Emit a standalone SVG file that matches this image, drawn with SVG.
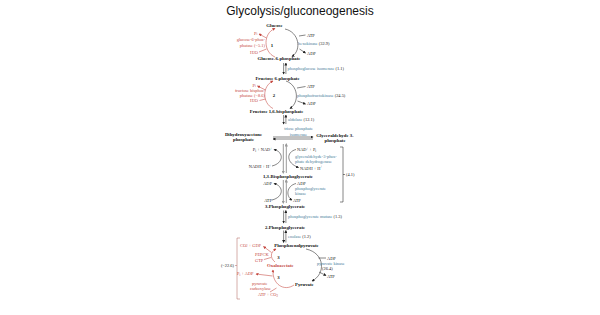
<svg xmlns="http://www.w3.org/2000/svg" width="600" height="315" viewBox="0 0 600 315">
<defs>
<style>
.t{font-family:"Liberation Serif","Times New Roman",serif;font-size:4.4px;fill:#222}
.m{font-family:"Liberation Serif","Times New Roman",serif;font-size:4.8px;font-weight:bold;fill:#111}
.b{fill:#3f7a98}
.r{fill:#c4463e}
.ln{fill:none;stroke:#222;stroke-width:0.55}
.lr{fill:none;stroke:#c4463e;stroke-width:0.55}
.lg{fill:none;stroke:#9a9a9a;stroke-width:1}
</style>
<marker id="ab" markerUnits="userSpaceOnUse" markerWidth="3" markerHeight="3" refX="2.5" refY="1.5" orient="auto"><path d="M0,0 L3,1.5 L0,3 z" fill="#222"/></marker>
<marker id="ar" markerUnits="userSpaceOnUse" markerWidth="3" markerHeight="3" refX="2.5" refY="1.5" orient="auto"><path d="M0,0 L3,1.5 L0,3 z" fill="#c4463e"/></marker>
<marker id="ag" markerUnits="userSpaceOnUse" markerWidth="3.5" markerHeight="3.5" refX="2.5" refY="1.75" orient="auto"><path d="M0,0 L3.5,1.75 L0,3.5 z" fill="#9a9a9a"/></marker>
</defs>
<rect width="600" height="315" fill="#fff"/>
<text x="300" y="15" text-anchor="middle" font-family="Liberation Sans, Arial, sans-serif" font-size="12" fill="#111">Glycolysis/gluconeogenesis</text>

<g id="connectors">
<path class="ln" d="M285 29 C299 32 302 50 292 56.5" marker-end="url(#ab)"/>
<path class="ln" d="M299 36 L305.5 35"/>
<path class="ln" d="M299.5 49 L305.5 53" marker-end="url(#ab)"/>
<path class="lr" d="M275 57 C263 52 263 33 275 28.5" marker-end="url(#ar)"/>
<path class="lr" d="M266.5 38 L259 34" marker-end="url(#ar)"/>
<path class="lr" d="M259 52 L266.5 49"/>
<path class="ln" d="M283.6 63 L283.6 74" marker-end="url(#ab)"/>
<path class="ln" d="M285.9 74 L285.9 63" marker-end="url(#ab)"/>
<path class="ln" d="M286 81 C298 85 300 102 290 108.5" marker-end="url(#ab)"/>
<path class="ln" d="M297 88 L305.5 86.5"/>
<path class="ln" d="M297.5 101 L305.5 104" marker-end="url(#ab)"/>
<path class="lr" d="M273 108.5 C262 103 262 86 273 81" marker-end="url(#ar)"/>
<path class="lr" d="M265.5 90 L257.5 86" marker-end="url(#ar)"/>
<path class="lr" d="M259.5 100.5 L265.5 99"/>
<path class="ln" d="M283.6 115 L283.6 124" marker-end="url(#ab)"/>
<path class="ln" d="M285.9 124 L285.9 115" marker-end="url(#ab)"/>
<path class="ln" d="M273 137 L313 137" marker-end="url(#ab)"/>
<path class="ln" d="M313 139 L273 139" marker-end="url(#ab)"/>
<path class="lg" d="M283.3 144 L283.3 173" marker-end="url(#ag)"/>
<path class="lg" d="M286.3 173 L286.3 144" marker-end="url(#ag)"/>
<path class="ln" d="M272 166 C284 163 284 152 274 149.5" marker-end="url(#ab)"/>
<path class="ln" d="M296 149.5 C286 152 286 163 298.5 167.5" marker-end="url(#ab)"/>
<path class="lg" d="M283.3 180 L283.3 203" marker-end="url(#ag)"/>
<path class="lg" d="M286.3 203 L286.3 180" marker-end="url(#ag)"/>
<path class="ln" d="M272 200 C284 197 284 186 274 183.5" marker-end="url(#ab)"/>
<path class="ln" d="M296 183.5 C286 186 286 197 292 200" marker-end="url(#ab)"/>
<path class="ln" d="M283.6 210.5 L283.6 223" marker-end="url(#ab)"/>
<path class="ln" d="M285.9 223 L285.9 210.5" marker-end="url(#ab)"/>
<path class="ln" d="M283.6 230.5 L283.6 242.5" marker-end="url(#ab)"/>
<path class="ln" d="M285.9 242.5 L285.9 230.5" marker-end="url(#ab)"/>
<path class="ln" d="M306 249 C325 253 326 274 312 281" marker-end="url(#ab)"/>
<path class="ln" d="M318.5 258 L326 258"/>
<path class="ln" d="M319 272 L326 275.5" marker-end="url(#ab)"/>
<path class="lr" d="M275 262 C270 258 270 252 276 249" marker-end="url(#ar)"/>
<path class="lr" d="M271.5 252.5 L263.5 246.5" marker-end="url(#ar)"/>
<path class="lr" d="M264 259.5 L271 257.5"/>
<path class="lr" d="M294 285 C284 292 272 284 273 270" marker-end="url(#ar)"/>
<path class="lr" d="M272.5 276 L256 274" marker-end="url(#ar)"/>
<path class="lr" d="M270 292 L276.5 288"/>
<path class="ln" d="M340 147 H343 V202 H340 M343 174.5 H345"/>
<path fill="none" stroke="#b56a64" stroke-width="0.55" d="M240 238 H237 V299 H240 M237 265.5 H235"/>
</g>

<g id="glucose"><text class="m" x="274.5" y="27" text-anchor="middle">Glucose</text></g>
<g id="g6p"><text class="m" x="279" y="60" text-anchor="middle">Glucose-6-phosphate</text></g>
<g id="hexokinase">
<text class="t" x="307" y="36.5">ATP</text>
<text class="t" x="298" y="44.5"><tspan class="b">hexokinase</tspan> (32.9)</text>
<text class="t" x="307" y="54.5">ADP</text>
</g>
<g id="g6pase">
<text class="t r" x="254" y="34.5">P<tspan font-size="3" dy="0.8">i</tspan></text>
<text class="t r" x="265" y="40.5" text-anchor="end">glucose-6-phos-</text>
<text class="t r" x="265" y="46.5" text-anchor="end">phatase (−5.1)</text>
<text class="t r" x="250" y="53.5">H<tspan font-size="3" dy="0.8">2</tspan><tspan dy="-0.8">O</tspan></text>
<text class="m" x="272" y="46.5" text-anchor="middle">1</text>
</g>
<g id="pgi"><text class="t b" x="287.5" y="70">phosphoglucose isomerase <tspan fill="#222">(1.1)</tspan></text></g>
<g id="f6p"><text class="m" x="277.5" y="79.5" text-anchor="middle">Fructose 6-phosphate</text></g>
<g id="pfk">
<text class="t" x="307" y="87.5">ATP</text>
<text class="t" x="297" y="96.5"><tspan class="b">phosphofructokinase</tspan> (24.5)</text>
<text class="t" x="307" y="104.5">ADP</text>
</g>
<g id="fbpase">
<text class="t r" x="252.5" y="86.5">P<tspan font-size="3" dy="0.8">i</tspan></text>
<text class="t r" x="265" y="91.5" text-anchor="end">fructose bisphos-</text>
<text class="t r" x="265" y="96.5" text-anchor="end">phatase (−8.6)</text>
<text class="t r" x="250" y="101.5">H<tspan font-size="3" dy="0.8">2</tspan><tspan dy="-0.8">O</tspan></text>
<text class="m" x="274" y="97" text-anchor="middle">2</text>
</g>
<g id="f16bp"><text class="m" x="276.5" y="113" text-anchor="middle">Fructose 1,6-bisphosphate</text></g>
<g id="aldolase"><text class="t b" x="288" y="120.5">aldolase <tspan fill="#222">(12.1)</tspan></text></g>
<g id="tpi">
<text class="t b" x="298.5" y="130" text-anchor="middle">triose phosphate</text>
<text class="t b" x="298.5" y="135.5" text-anchor="middle">isomerase</text>
</g>
<g id="dhap">
<text class="m" x="243.5" y="135.5" text-anchor="middle">Dihydroxyacetone</text>
<text class="m" x="243.5" y="141" text-anchor="middle">phosphate</text>
</g>
<g id="gap">
<text class="m" x="335" y="136.5" text-anchor="middle">Glyceraldehyde 3-</text>
<text class="m" x="335" y="142" text-anchor="middle">phosphate</text>
</g>
<g id="gapdh">
<text class="t" x="272" y="151" text-anchor="end">P<tspan font-size="3" dy="0.8">i</tspan><tspan dy="-0.8"> + NAD</tspan><tspan font-size="3" dy="-1.5">+</tspan></text>
<text class="t" x="297" y="151">NAD<tspan font-size="3" dy="-1.5">+</tspan><tspan dy="1.5"> + P</tspan><tspan font-size="3" dy="0.8">i</tspan></text>
<text class="t b" x="295" y="157.5">glyceraldehyde-3-phos-</text>
<text class="t b" x="295" y="162.5">phate dehydrogenase</text>
<text class="t" x="271" y="168" text-anchor="end">NADH + H<tspan font-size="3" dy="-1.5">+</tspan></text>
<text class="t" x="300" y="169.5">NADH + H<tspan font-size="3" dy="-1.5">+</tspan></text>
</g>
<g id="bpg"><text class="m" x="288" y="177.5" text-anchor="middle">1,3-Bisphosphoglycerate</text></g>
<g id="pgk">
<text class="t" x="272" y="185" text-anchor="end">ADP</text>
<text class="t" x="297" y="185">ADP</text>
<text class="t b" x="295" y="190">phosphoglycerate</text>
<text class="t b" x="295" y="195">kinase</text>
<text class="t" x="272" y="202" text-anchor="end">ATP</text>
<text class="t" x="293" y="202">ATP</text>
</g>
<g id="bracket41"><text class="t" x="346" y="176">(4.1)</text></g>
<g id="pg3"><text class="m" x="285" y="208" text-anchor="middle">3-Phosphoglycerate</text></g>
<g id="mutase"><text class="t b" x="288" y="217.5">phosphoglycerate mutase <tspan fill="#222">(1.3)</tspan></text></g>
<g id="pg2"><text class="m" x="285" y="228.5" text-anchor="middle">2-Phosphoglycerate</text></g>
<g id="enolase"><text class="t b" x="288" y="238">enolase <tspan fill="#222">(1.2)</tspan></text></g>
<g id="pep"><text class="m" x="296.5" y="247" text-anchor="middle">Phosphoenolpyruvate</text></g>
<g id="pepck">
<text class="t r" x="240" y="246.5">CO<tspan font-size="3" dy="0.8">2</tspan><tspan dy="-0.8"> + GDP</tspan></text>
<text class="t r" x="255" y="255.5">PEPCK</text>
<text class="t r" x="255" y="261.5">GTP</text>
<text class="m" x="278.5" y="258.5" text-anchor="middle">3</text>
</g>
<g id="oxaloacetate"><text class="m r" x="267" y="266.5">Oxaloacetate</text></g>
<g id="pk">
<text class="t" x="327" y="259.5">ADP</text>
<text class="t b" x="317" y="264.5">pyruvate kinase</text>
<text class="t" x="322" y="269.5">(26.4)</text>
<text class="t" x="327" y="277.5">ATP</text>
</g>
<g id="pc">
<text class="t r" x="237" y="275">P<tspan font-size="3" dy="0.8">i</tspan><tspan dy="-0.8"> + ADP</tspan></text>
<text class="m" x="278.5" y="278.5" text-anchor="middle">3</text>
<text class="t r" x="252" y="284.5">pyruvate</text>
<text class="t r" x="250" y="289.5">carboxylase</text>
<text class="t r" x="258" y="296">ATP + CO<tspan font-size="3" dy="0.8">2</tspan></text>
</g>
<g id="pyruvate"><text class="m" x="295" y="285.5">Pyruvate</text></g>
<g id="bracket226"><text class="t" x="234" y="267" text-anchor="end">(−22.6)</text></g>
</svg>
